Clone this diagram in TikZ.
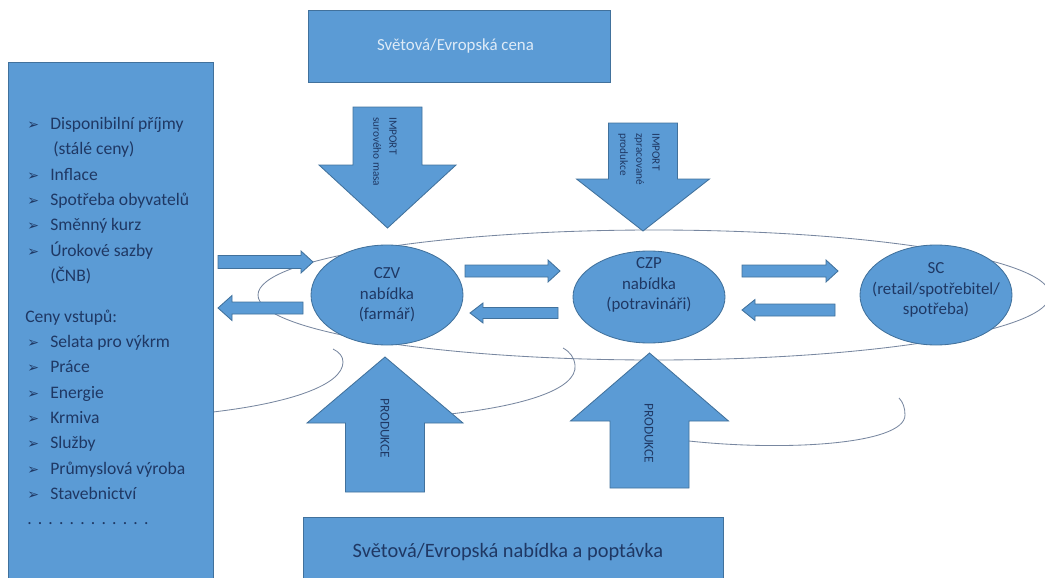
\documentclass[tikz,border=0pt]{standalone}
\usepackage{fontspec}
\setmainfont{Carlito}
\newfontfamily\symfont{DejaVu Sans}
\usetikzlibrary{shapes.geometric, arrows.meta, positioning, calc}

\definecolor{boxblue}{RGB}{91,155,213}
\definecolor{edgeblue}{RGB}{65,113,156}
\definecolor{inktext}{RGB}{31,56,100}
\definecolor{lighttext}{RGB}{222,235,247}
\definecolor{loopgray}{RGB}{120,135,160}

\newlength\pxu
\setlength\pxu{0.025cm}
\newcommand{\itm}[1]{\hspace*{2\pxu}\makebox[23\pxu][l]{\symfont\fontsize{10}{10}\selectfont ➢}#1}
\newcommand{\dotrow}{\hspace*{2\pxu}\foreach \k in {1,...,12}{.\hspace{4.4pt}}}
% block arrow: tail, tip, half shaft, half head, head length (in px)
\newcommand{\blockarrow}[5]{%
  \path (#2) coordinate (ba-tip) ($(#2)!#5*0.025cm!(#1)$) coordinate (ba-base);
  \draw[blockbody] ($(#1)!#3*0.025cm!90:(#2)$) -- ($(ba-base)!#3*0.025cm!-90:(#1)$)
    -- ($(ba-base)!#4*0.025cm!-90:(#1)$) -- (ba-tip) -- ($(ba-base)!#4*0.025cm!90:(#1)$)
    -- ($(ba-base)!#3*0.025cm!90:(#1)$) -- ($(#1)!#3*0.025cm!-90:(#2)$) -- cycle;}

\begin{document}
\begin{tikzpicture}[
    x=0.025cm, y=-0.025cm, font=\fontsize{12.5}{18}\selectfont,
    panel/.style={draw=edgeblue, fill=boxblue, line width=0.6pt, rectangle, inner sep=0pt},
    oval/.style={draw=edgeblue, fill=boxblue, line width=0.6pt, ellipse, inner sep=0pt, minimum width=152\pxu, minimum height=100\pxu},
    ovaltext/.style={text=inktext, align=center, font=\fontsize{12}{14.6}\selectfont},
    blockbody/.style={draw=edgeblue, fill=boxblue, line width=0.6pt, line join=miter},
    arrowtext/.style={text=inktext, inner sep=0pt, align=left, font=\fontsize{8}{11.5}\selectfont},
    loop/.style={draw=loopgray, line width=0.6pt}
  ]
  \useasboundingbox (0,0) rectangle (1045,578);

  % thin loops behind the chain
  \draw[loop] (654,295) ellipse [x radius=396, y radius=65];
  \draw[loop] (213,412) .. controls (290,403) and (343,385) .. (343,362) .. controls (343,356) and (339,352) .. (333,349);
  \draw[loop] (430,416) .. controls (520,408) and (578,390) .. (575,365) .. controls (574,357) and (570,352) .. (563,348);
  \draw[loop] (680,440) .. controls (780,452) and (905,445) .. (905,415) .. controls (905,408) and (903,402) .. (899,398);

  % boxes
  \node[panel, minimum width=205\pxu, minimum height=520\pxu, anchor=north west] (drivers) at (8,62) {};
  \node[panel, minimum width=302\pxu, minimum height=72\pxu, text=lighttext, font=\fontsize{12}{14}\selectfont] (worldprice) at (459,46) {Světová/Evropská cena\hspace*{7\pxu}};
  \node[panel, minimum width=420\pxu, minimum height=70\pxu, anchor=north west, text=inktext, font=\fontsize{14.5}{16}\selectfont] (worldmarket) at (303,517) {Světová/Evropská nabídka a poptávka\hspace*{11\pxu}};

  \node[anchor=north west, inner sep=0pt, text=inktext, align=left] (driverlist) at (25,117) {%
    \itm{Disponibilní příjmy}\\
    \hspace*{28\pxu}(stálé ceny)\\
    \itm{Inflace}\\
    \itm{Spotřeba obyvatelů}\\
    \itm{Směnný kurz}\\
    \itm{Úrokové sazby}\\
    \hspace*{25\pxu}(ČNB)\\[11pt]
    Ceny vstupů:\\
    \itm{Selata pro výkrm}\\
    \itm{Práce}\\
    \itm{Energie}\\
    \itm{Krmiva}\\
    \itm{Služby}\\
    \itm{Průmyslová výroba}\\
    \itm{Stavebnictví}\\
    \dotrow};

  % chain
  \node[oval, label={[ovaltext]center:{CZV\\nabídka\\(farmář)}}] (czv) at (387,295) {};
  \node[oval, minimum height=92\pxu, label={[ovaltext, yshift=12\pxu]center:{CZP\\nabídka\\(potravináři)}}] (czp) at (649,297) {};
  \node[oval, label={[ovaltext, yshift=5\pxu]center:{SC\\(retail/spotřebitel/\\spotřeba)}}] (sc) at (936,295) {};

  % import and production
  \blockarrow{387.5,107}{387.5,228}{34.5}{68.5}{63}
  \node[arrowtext, rotate=-90, anchor=west] (importraw) at (385,117) {IMPORT\\surového masa};
  \blockarrow{643,123}{643,231}{34.5}{66.5}{52}
  \node[arrowtext, rotate=-90, anchor=west] (importfood) at (639,133) {IMPORT\\zpracované\\produkce};
  \blockarrow{385,492}{385,357}{39.5}{78}{66}
  \node[arrowtext, rotate=-90, font=\fontsize{9.5}{12}\selectfont] (prodfarm) at (385,428) {PRODUKCE};
  \blockarrow{649.5,488}{649.5,353}{39.5}{79}{68}
  \node[arrowtext, rotate=-90, font=\fontsize{9.5}{12}\selectfont] (prodfood) at (649,433) {PRODUKCE};

  % flows between the stages
  \blockarrow{218,262}{313,262}{6.5}{11}{12}
  \blockarrow{303,308}{218,308}{6}{12.5}{14}
  \blockarrow{465,271}{560,271}{6}{11}{12}
  \blockarrow{558,313}{470,313}{5.5}{10}{13}
  \blockarrow{742,271}{838,271}{6}{11}{12}
  \blockarrow{835,310}{742,310}{6}{10.5}{13}
\end{tikzpicture}
\end{document}
